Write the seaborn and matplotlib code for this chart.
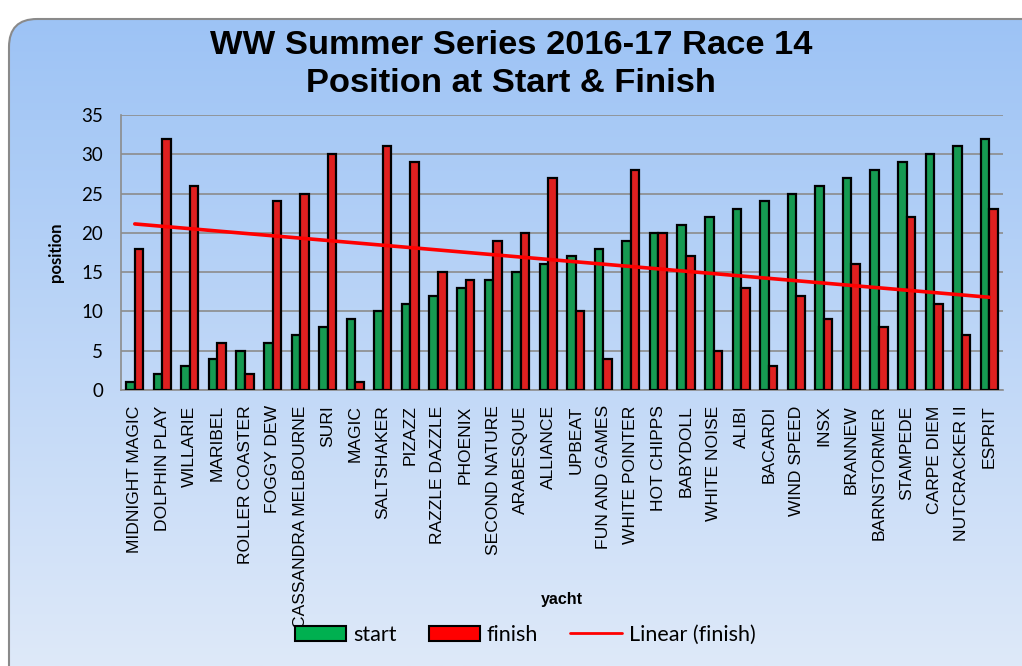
import numpy as np
import pandas as pd
import seaborn as sns
import matplotlib.pyplot as plt
from matplotlib.patches import FancyBboxPatch, Patch
from matplotlib.lines import Line2D

yachts = [
    "MIDNIGHT MAGIC", "DOLPHIN PLAY", "WILLARIE", "MARIBEL", "ROLLER COASTER",
    "FOGGY DEW", "CASSANDRA MELBOURNE", "SURI", "MAGIC", "SALTSHAKER", "PIZAZZ",
    "RAZZLE DAZZLE", "PHOENIX", "SECOND NATURE", "ARABESQUE", "ALLIANCE",
    "UPBEAT", "FUN AND GAMES", "WHITE POINTER", "HOT CHIPPS", "BABYDOLL",
    "WHITE NOISE", "ALIBI", "BACARDI", "WIND SPEED", "INSX", "BRANNEW",
    "BARNSTORMER", "STAMPEDE", "CARPE DIEM", "NUTCRACKER II", "ESPRIT",
]
start = [1, 2, 3, 4, 5, 6, 7, 8, 9, 10, 11, 12, 13, 14, 15, 16,
         17, 18, 19, 20, 21, 22, 23, 24, 25, 26, 27, 28, 29, 30, 31, 32]
finish = [18, 32, 26, 6, 2, 24, 25, 30, 1, 31, 29, 15, 14, 19, 20, 27,
          10, 4, 28, 20, 17, 5, 13, 3, 12, 9, 16, 8, 22, 11, 7, 23]

df = pd.DataFrame({
    "yacht": yachts * 2,
    "position": start + finish,
    "series": ["start"] * len(yachts) + ["finish"] * len(yachts),
})

green = "#00B050"
red = "#FF0000"
calibri_like = ["Lato", "DejaVu Sans"]

sns.set_style("white")
plt.rcParams["font.family"] = ["Liberation Sans", "DejaVu Sans"]
plt.rcParams["text.color"] = "black"
plt.rcParams["axes.labelcolor"] = "black"
plt.rcParams["xtick.color"] = "black"
plt.rcParams["ytick.color"] = "black"

W, H = 1022, 666
fig = plt.figure(figsize=(W / 100, H / 100), dpi=100)
fig.patch.set_facecolor("white")

# gradient background inside a rounded frame
bg = fig.add_axes([0, 0, 1, 1], zorder=-1)
bg.set_xlim(0, W)
bg.set_ylim(H, 0)
bg.axis("off")
frame = FancyBboxPatch((9, 19), W + 40, H + 40, boxstyle="round,pad=0,rounding_size=28",
                       facecolor="none", edgecolor="#8a8a8a", linewidth=1.5,
                       transform=bg.transData)
bg.add_patch(frame)
top = np.array([155, 194, 245]) / 255
bot = np.array([222, 233, 249]) / 255
t = np.linspace(0, 1, 256)[:, None]
grad = (top[None, :] * (1 - t) + bot[None, :] * t)[:, None, :]
im = bg.imshow(grad, extent=[0, W, H, 0], aspect="auto", interpolation="bilinear")
im.set_clip_path(frame)

ax = fig.add_axes([121 / W, 1 - 390 / H, (1003 - 121) / W, (390 - 115) / H])
ax.set_facecolor("none")

sns.barplot(data=df, x="yacht", y="position", hue="series",
            palette=[green, red], width=0.62, edgecolor="black",
            linewidth=1.6, ax=ax, legend=False, zorder=3)

# linear trend of the finish positions
xs = np.arange(len(yachts))
coef = np.polyfit(xs, finish, 1)
ax.plot(xs, np.polyval(coef, xs), color=red, linewidth=2.6, zorder=4)

ax.set_ylim(0, 35)
ax.set_yticks(range(0, 36, 5))
ax.set_xlim(-0.5, len(yachts) - 0.5)
ax.yaxis.grid(True, color="#8c8c8c", linewidth=1.2, zorder=0)
ax.set_axisbelow(True)
for s in ["top", "right"]:
    ax.spines[s].set_visible(False)
for s in ["left", "bottom"]:
    ax.spines[s].set_color("#8c8c8c")
    ax.spines[s].set_linewidth(1.2)

ax.set_xticks(xs)
ax.set_xticklabels(yachts, rotation=90, fontsize=12.6)
ax.set_xticks(np.arange(-0.5, len(yachts), 1), minor=True)
ax.tick_params(axis="x", which="major", length=0, pad=11)
ax.tick_params(axis="x", which="minor", length=6, color="#8c8c8c", width=1.2)
ax.tick_params(axis="y", length=7, color="#8c8c8c", width=1.2, pad=6)
for lab in ax.get_yticklabels():
    lab.set_family(calibri_like)
    lab.set_fontsize(13.5)

ax.set_ylabel("position", fontsize=12, fontweight="bold", family=calibri_like, labelpad=12)
ax.set_xlabel("yacht", fontsize=11.5, fontweight="bold")
ax.xaxis.set_label_coords(0.5, -(592 - 390) / (390 - 115))

fig.text(0.5, 1 - 46 / H, "WW Summer Series 2016-17 Race 14", ha="center",
         va="center", fontsize=24.8, fontweight="bold")
fig.text(0.5, 1 - 84 / H, "Position at Start & Finish", ha="center",
         va="center", fontsize=24.8, fontweight="bold")

handles = [
    Patch(facecolor=green, edgecolor="black", linewidth=1.5, label="start"),
    Patch(facecolor=red, edgecolor="black", linewidth=1.5, label="finish"),
    Line2D([0], [0], color=red, linewidth=2, label="Linear (finish)"),
]
fig.legend(handles=handles, loc="center", bbox_to_anchor=(525 / W, 1 - 635 / H),
           ncol=3, frameon=False, handlelength=2.4, handleheight=0.75,
           handletextpad=0.3, columnspacing=1.5,
           prop={"family": calibri_like, "size": 15.5})

fig.savefig("out.png", dpi=100)
